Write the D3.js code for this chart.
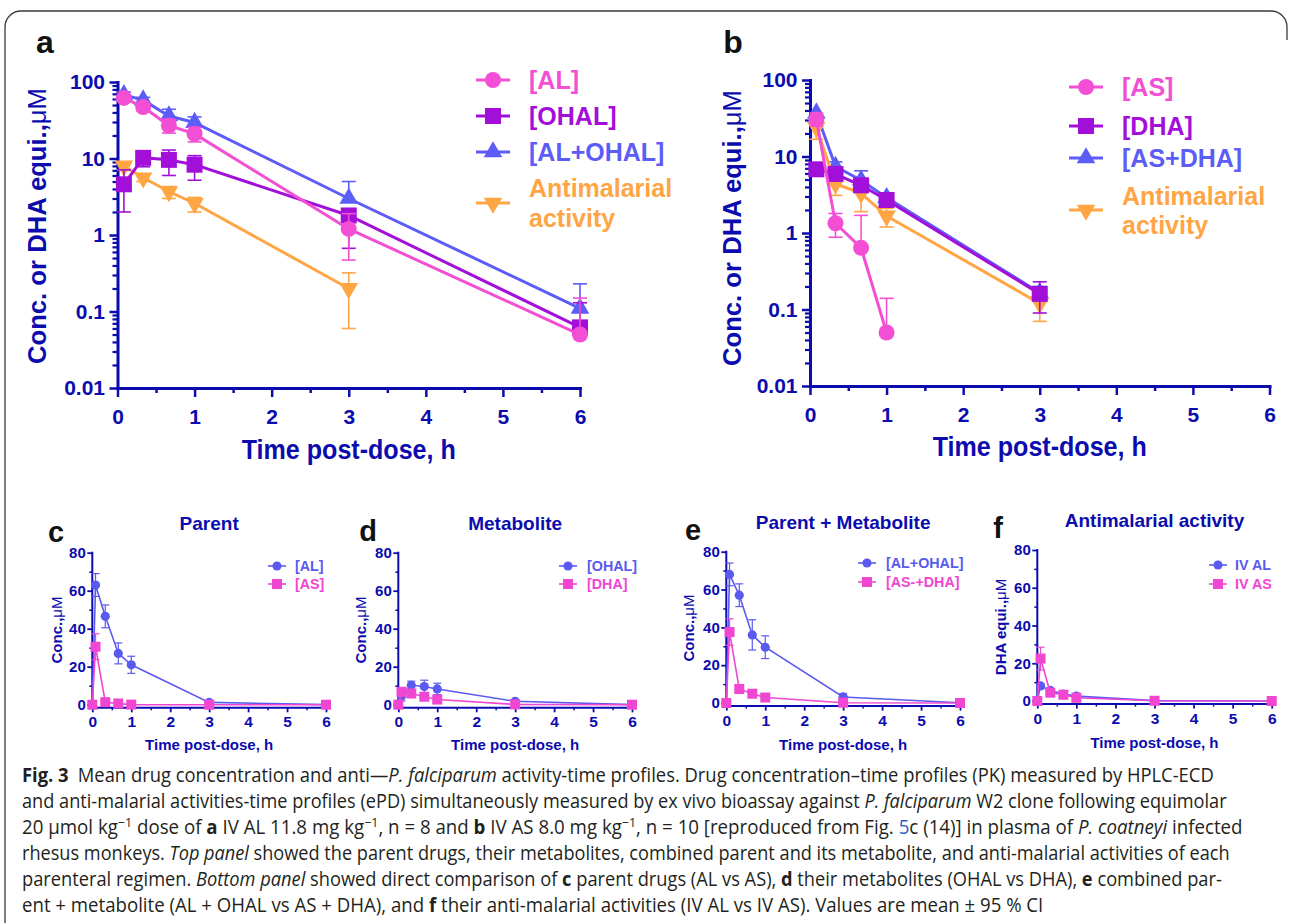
<!DOCTYPE html>
<html><head><meta charset="utf-8">
<script src="https://cdn.jsdelivr.net/npm/d3@7"></script>
<style>body{margin:0;background:#fff}svg{display:block}</style>
</head><body><svg id="fig" width="1290" height="923"></svg>
<script>
// ---------------- DATA ----------------
const timeTop = [0.083, 0.333, 0.667, 1, 3, 6];
// panel a (IV AL)
const aAL      = [62, 47, 27, 21, 1.2, 0.05];
const aALlo    = [57, 42, 21.5, 16.5, 0.47, null];
const aALhi    = [68, 52, 32.5, 25.5, 1.9, 0.15];
const aOHAL    = [4.6, 10.2, 9.6, 8.3, 1.8, 0.062];
const aOHALlo  = [2.0, 7.8, 6.0, 5.2, 0.67, null];
const aOHALhi  = [7.1, 12.3, 12.9, 10.9, 2.2, 0.13];
const aSum     = [68, 58, 36, 29.5, 3.0, 0.11];
const aSumlo   = [null, null, 28, 23.5, null, null];
const aSumhi   = [74, 63, 44, 35, 5.0, 0.23];
const aAct     = [8.0, 5.6, 3.7, 2.6, 0.2, null];
const aActlo   = [7.0, 5.0, 3.0, 2.0, 0.06, null];
const aActhi   = [9.0, 6.2, 4.3, 3.1, 0.32, null];
// panel b (IV AS)
const bAS      = [30.5, 1.34, 0.64, 0.05, null, null];
const bASlo    = [25, 0.88, null, null, null, null];
const bAShi    = [37, 1.8, 1.7, 0.14, null, null];
const bDHA     = [6.8, 5.9, 4.2, 2.7, 0.16, null];
const bDHAlo   = [null, 5.0, 3.5, 2.3, 0.09, null];
const bDHAhi   = [null, 6.8, 5.0, 3.1, 0.23, null];
const bSum     = [37, 7.4, 4.9, 2.9, 0.165, null];
const bSumlo   = [null, null, null, null, null, null];
const bSumhi   = [null, 8.5, 6.5, 3.3, 0.2, null];
const bAct     = [24, 4.4, 3.3, 1.67, 0.12, null];
const bActlo   = [16.8, 3.1, 1.9, 1.2, 0.07, null];
const bActhi   = [31, 5.5, 4.5, 2.1, 0.17, null];

const logTicks  = [0.01, 0.1, 1, 10, 100];
const logLabels = ["0.01", "0.1", "1", "10", "100"];
const hourTicks = [0, 1, 2, 3, 4, 5, 6];
const linTicks  = [0, 20, 40, 60, 80];

// bottom panels (linear scale)
const timeBottom = [0, 0.083, 0.333, 0.667, 1, 3, 6];
const cAL      = [0, 63, 46.5, 27, 21, 1.2, 0.05];
const cALerr   = [0, 6, 6, 5.5, 4.5, 0.5, 0.1];
const cAS      = [0, 30.5, 1.34, 0.64, 0.05, 0, 0];
const cASerr   = [0, 6.8, 0.5, 1.0, 0.1, 0, 0];
const dOHAL    = [0, 4.6, 10.2, 9.6, 8.3, 1.8, 0.06];
const dOHALerr = [0, 2.6, 2.2, 3.3, 3.0, 0.6, 0.07];
const dDHA     = [0, 6.8, 5.9, 4.2, 2.7, 0.16, 0];
const dDHAerr  = [0, 1.2, 1.0, 0.9, 0.5, 0.07, 0];
const eALOHAL  = [0, 68, 57, 36, 29.5, 3.2, 0.11];
const eALOHALerr = [0, 6, 6, 8, 6, 1.8, 0.12];
const eASDHA   = [0, 37.5, 7.4, 4.9, 2.9, 0.16, 0];
const eASDHAerr = [0, 7, 1.1, 1.6, 0.5, 0.07, 0];
const fIVAL    = [0, 8, 5.6, 3.7, 2.6, 0.2, 0];
const fIVALerr = [0, 1, 0.6, 0.6, 0.5, 0.12, 0];
const fIVAS    = [0, 22.5, 4.4, 3.3, 1.7, 0.12, 0];
const fIVASerr = [0, 6, 1.3, 1.4, 0.45, 0.05, 0];

// ---------------- STYLE ----------------
const PINK = "#F24FD4", PURPLE = "#A20FD9", BLUE = "#5C5CF7", ORANGE = "#FFA544";
const NAVY = "#0B0BAE";
const BBLUE = "#5A5AF0", BPINK = "#F046D2";
const FONT = "'Liberation Sans', Arial, Helvetica, sans-serif";

const svg = d3.select("#fig");
svg.append("rect").attr("width", 1290).attr("height", 923).attr("fill", "#fff");

// frame
svg.append("path")
  .attr("d", "M5,923 V27 A16,16 0 0 1 21,11 H1271 A16,16 0 0 1 1287,27 V40")
  .attr("fill", "none").attr("stroke", "#3a3a3a").attr("stroke-width", 1.3);

function sym(type, size, rot) {
  return { path: d3.symbol().type(type).size(size)(), rot: rot || 0 };
}

function drawMarker(g, m, cx, cy, color) {
  g.append("path").attr("d", m.path)
    .attr("transform", `translate(${cx},${cy}) rotate(${m.rot})`)
    .attr("fill", color).attr("stroke", "none");
}

function styleAxis(ax, w, tw, fs) {
  ax.select(".domain").attr("stroke", NAVY).attr("stroke-width", w).attr("stroke-linecap", "square");
  ax.selectAll(".tick line").attr("stroke", NAVY).attr("stroke-width", tw);
  ax.selectAll(".tick text").attr("fill", NAVY).attr("font-family", FONT)
    .attr("font-weight", "bold").attr("font-size", fs);
}

// ---------------- TOP PANELS ----------------
function topPanel(cfg) {
  const x = d3.scaleLinear().domain([0, 6]).range([cfg.x0, cfg.x1]);
  const y = d3.scaleLog().domain([0.01, 100]).range([cfg.yB, cfg.yT]);
  const g = svg.append("g");

  // minor ticks
  const minorY = y.ticks().filter(v => !logTicks.some(t => Math.abs(t - v) < 1e-9));
  const ym = g.append("g").attr("transform", `translate(${cfg.x0},0)`)
    .call(d3.axisLeft(y).tickValues(minorY).tickFormat("").tickSize(5).tickSizeOuter(0));
  ym.select(".domain").remove();
  ym.selectAll(".tick line").attr("stroke", NAVY).attr("stroke-width", 2.2);

  const xm = g.append("g").attr("transform", `translate(0,${cfg.yB})`)
    .call(d3.axisBottom(x).tickValues([0.5, 1.5, 2.5, 3.5, 4.5, 5.5]).tickFormat("").tickSize(5).tickSizeOuter(0));
  xm.select(".domain").remove();
  xm.selectAll(".tick line").attr("stroke", NAVY).attr("stroke-width", 2.5);

  const ya = g.append("g").attr("transform", `translate(${cfg.x0},0)`)
    .call(d3.axisLeft(y).tickValues(logTicks).tickFormat((d, i) => logLabels[i])
      .tickSize(8).tickSizeOuter(0).tickPadding(4.5));
  styleAxis(ya, 3, 2.5, 21);

  const xa = g.append("g").attr("transform", `translate(0,${cfg.yB})`)
    .call(d3.axisBottom(x).tickValues(hourTicks).tickFormat(d3.format("d"))
      .tickSize(9).tickSizeOuter(0).tickPadding(12));
  styleAxis(xa, 3, 2.5, 21);

  // series
  cfg.series.forEach(s => {
    const pts = timeTop.map((t, i) => ({ t, v: s.v[i], lo: s.lo[i], hi: s.hi[i] })).filter(p => p.v != null);
    pts.forEach(p => {
      const top = p.hi != null ? p.hi : p.v, bot = p.lo != null ? p.lo : p.v;
      if (top === bot) return;
      const cx = x(p.t);
      g.append("line").attr("x1", cx).attr("x2", cx).attr("y1", y(top)).attr("y2", y(bot))
        .attr("stroke", s.color).attr("stroke-width", 1.6);
      if (p.hi != null) g.append("line").attr("x1", cx - 7).attr("x2", cx + 7).attr("y1", y(p.hi)).attr("y2", y(p.hi))
        .attr("stroke", s.color).attr("stroke-width", 1.6);
      if (p.lo != null) g.append("line").attr("x1", cx - 7).attr("x2", cx + 7).attr("y1", y(p.lo)).attr("y2", y(p.lo))
        .attr("stroke", s.color).attr("stroke-width", 1.6);
    });
    g.append("path").datum(pts)
      .attr("d", d3.line().x(p => x(p.t)).y(p => y(p.v)))
      .attr("fill", "none").attr("stroke", s.color).attr("stroke-width", 3).attr("stroke-linejoin", "round");
    pts.forEach(p => drawMarker(g, s.marker, x(p.t), y(p.v), s.color));
  });

  // labels
  g.append("text").attr("x", cfg.letterX).attr("y", 53).attr("text-anchor", "middle")
    .attr("font-family", FONT).attr("font-weight", "bold").attr("font-size", 32).attr("fill", "#111").text(cfg.letter);
  g.append("text").attr("x", (cfg.x0 + cfg.x1) / 2).attr("y", cfg.xtY).attr("text-anchor", "middle")
    .attr("font-family", FONT).attr("font-weight", "bold").attr("font-size", 27)
    .attr("textLength", 214).attr("lengthAdjust", "spacingAndGlyphs")
    .attr("fill", NAVY).text("Time post-dose, h");
  const yt = g.append("text").attr("transform", `translate(${cfg.ytX},${cfg.ytY}) rotate(-90)`)
    .attr("text-anchor", "middle").attr("font-family", FONT).attr("font-weight", "bold").attr("font-size", 26)
    .attr("textLength", 276).attr("lengthAdjust", "spacingAndGlyphs").attr("fill", NAVY);
  yt.append("tspan").text("Conc. or DHA equi.,");
  yt.append("tspan").attr("font-weight", "normal").text("\u03bcM");

  // legend
  cfg.legend.forEach(L => {
    g.append("line").attr("x1", cfg.legX - 17).attr("x2", cfg.legX + 17).attr("y1", L.my).attr("y2", L.my)
      .attr("stroke", L.s.color).attr("stroke-width", 3);
    drawMarker(g, L.s.marker, cfg.legX, L.my, L.s.color);
    L.lines.forEach((txt, k) => {
      g.append("text").attr("x", cfg.legTX).attr("y", L.ty[k]).attr("font-family", FONT)
        .attr("font-weight", "bold").attr("font-size", 25).attr("fill", L.s.color).text(txt);
    });
  });
}

const mCircle = sym(d3.symbolCircle, 201);
const mSquare = sym(d3.symbolSquare, 256);
const mTri = sym(d3.symbolTriangle, 150);
const mInv = sym(d3.symbolTriangle, 150, 180);

const sAL   = { v: aAL, lo: aALlo, hi: aALhi, color: PINK, marker: mCircle };
const sOHAL = { v: aOHAL, lo: aOHALlo, hi: aOHALhi, color: PURPLE, marker: mSquare };
const sASum = { v: aSum, lo: aSumlo, hi: aSumhi, color: BLUE, marker: mTri };
const sAAct = { v: aAct, lo: aActlo, hi: aActhi, color: ORANGE, marker: mInv };
topPanel({
  x0: 117.5, x1: 580, yT: 82, yB: 388, letter: "a", letterX: 45, xtY: 459, ytX: 46, ytY: 226,
  series: [sAAct, sASum, sOHAL, sAL],
  legX: 493, legTX: 529,
  legend: [
    { s: sAL, my: 80, lines: ["[AL]"], ty: [89] },
    { s: sOHAL, my: 116, lines: ["[OHAL]"], ty: [125] },
    { s: sASum, my: 152, lines: ["[AL+OHAL]"], ty: [161] },
    { s: sAAct, my: 203, lines: ["Antimalarial", "activity"], ty: [197, 227] }
  ]
});

const sAS   = { v: bAS, lo: bASlo, hi: bAShi, color: PINK, marker: mCircle };
const sDHA  = { v: bDHA, lo: bDHAlo, hi: bDHAhi, color: PURPLE, marker: mSquare };
const sBSum = { v: bSum, lo: bSumlo, hi: bSumhi, color: BLUE, marker: mTri };
const sBAct = { v: bAct, lo: bActlo, hi: bActhi, color: ORANGE, marker: mInv };
topPanel({
  x0: 810, x1: 1269.5, yT: 80, yB: 386, letter: "b", letterX: 733, xtY: 456, ytX: 741, ytY: 228,
  series: [sBSum, sBAct, sDHA, sAS],
  legX: 1086, legTX: 1122,
  legend: [
    { s: sAS, my: 87, lines: ["[AS]"], ty: [96] },
    { s: sDHA, my: 126, lines: ["[DHA]"], ty: [135] },
    { s: sBSum, my: 158, lines: ["[AS+DHA]"], ty: [167] },
    { s: sBAct, my: 210, lines: ["Antimalarial", "activity"], ty: [205, 234] }
  ]
});

// ---------------- BOTTOM PANELS ----------------
const bCircle = sym(d3.symbolCircle, 66);
const bSquare = sym(d3.symbolSquare, 100);

function bottomPanel(cfg) {
  const x = d3.scaleLinear().domain([0, 6]).range([cfg.x0, cfg.x1]);
  const y = d3.scaleLinear().domain([0, 80]).range([cfg.yB, cfg.yT]);
  const g = svg.append("g");

  const ym = g.append("g").attr("transform", `translate(${cfg.x0},0)`)
    .call(d3.axisLeft(y).tickValues([10, 30, 50, 70]).tickFormat("").tickSize(3).tickSizeOuter(0));
  ym.select(".domain").remove();
  ym.selectAll(".tick line").attr("stroke", NAVY).attr("stroke-width", 1.5);
  const xm = g.append("g").attr("transform", `translate(0,${cfg.axY})`)
    .call(d3.axisBottom(x).tickValues([0.5, 1.5, 2.5, 3.5, 4.5, 5.5]).tickFormat("").tickSize(3).tickSizeOuter(0));
  xm.select(".domain").remove();
  xm.selectAll(".tick line").attr("stroke", NAVY).attr("stroke-width", 1.5);

  const ya = g.append("g").attr("transform", `translate(${cfg.x0},0)`)
    .call(d3.axisLeft(y).tickValues(linTicks).tickFormat(d3.format("d")).tickSize(5).tickSizeOuter(0).tickPadding(1.5));
  styleAxis(ya, 2, 1.8, 15);
  ya.select(".domain").attr("d", `M0,${y(80)}V${cfg.axY}`);

  const xa = g.append("g").attr("transform", `translate(0,${cfg.axY})`)
    .call(d3.axisBottom(x).tickValues(hourTicks).tickFormat(d3.format("d")).tickSize(5).tickSizeOuter(0).tickPadding(4));
  styleAxis(xa, 2, 1.8, 15.5);

  cfg.series.forEach(s => {
    const pts = timeBottom.map((t, i) => ({ t, v: s.v[i], e: s.e[i] }));
    pts.forEach(p => {
      if (!p.e) return;
      const cx = x(p.t);
      g.append("line").attr("x1", cx).attr("x2", cx).attr("y1", y(p.v + p.e)).attr("y2", y(Math.max(0, p.v - p.e)))
        .attr("stroke", s.color).attr("stroke-width", 1.2);
      g.append("line").attr("x1", cx - 4).attr("x2", cx + 4).attr("y1", y(p.v + p.e)).attr("y2", y(p.v + p.e))
        .attr("stroke", s.color).attr("stroke-width", 1.2);
      if (p.v - p.e > 0)
        g.append("line").attr("x1", cx - 4).attr("x2", cx + 4).attr("y1", y(p.v - p.e)).attr("y2", y(p.v - p.e))
          .attr("stroke", s.color).attr("stroke-width", 1.2);
    });
    g.append("path").datum(pts).attr("d", d3.line().x(p => x(p.t)).y(p => y(p.v)))
      .attr("fill", "none").attr("stroke", s.color).attr("stroke-width", 1.6);
    pts.forEach(p => drawMarker(g, s.marker, x(p.t), y(p.v), s.color));
  });

  const cx = (cfg.x0 + cfg.x1) / 2;
  g.append("text").attr("x", cx).attr("y", cfg.titleY).attr("text-anchor", "middle")
    .attr("font-family", FONT).attr("font-weight", "bold").attr("font-size", 19).attr("fill", NAVY).text(cfg.title);
  g.append("text").attr("x", cfg.letterX).attr("y", cfg.letterY).attr("text-anchor", "middle")
    .attr("font-family", FONT).attr("font-weight", "bold").attr("font-size", 29).attr("fill", "#111").text(cfg.letter);
  g.append("text").attr("x", cx).attr("y", cfg.xtY).attr("text-anchor", "middle")
    .attr("font-family", FONT).attr("font-weight", "bold").attr("font-size", 15).attr("fill", NAVY).text("Time post-dose, h");
  const yt = g.append("text").attr("transform", `translate(${cfg.ytX},${cfg.ytY}) rotate(-90)`)
    .attr("text-anchor", "middle").attr("font-family", FONT).attr("font-weight", "bold").attr("font-size", 15).attr("fill", NAVY);
  yt.append("tspan").text(cfg.ytitle);
  yt.append("tspan").attr("font-weight", "normal").text("\u03bcM");

  cfg.series.forEach((s, k) => {
    const ly = cfg.legY[k];
    g.append("line").attr("x1", cfg.legX - 9).attr("x2", cfg.legX + 9).attr("y1", ly).attr("y2", ly)
      .attr("stroke", s.color).attr("stroke-width", 1.6);
    drawMarker(g, s.marker, cfg.legX, ly, s.color);
    g.append("text").attr("x", cfg.legTX).attr("y", ly + 5).attr("font-family", FONT).attr("font-weight", "bold")
      .attr("font-size", 14.3).attr("fill", s.color).text(s.name);
  });
}

bottomPanel({ x0: 92.3, x1: 326, yT: 552.7, yB: 704.7, axY: 707.3, title: "Parent", titleY: 530,
  letter: "c", letterX: 56, letterY: 542, xtY: 750, ytX: 62, ytY: 630, ytitle: "Conc.,",
  legX: 277, legTX: 295, legY: [566, 584],
  series: [
    { name: "[AL]", v: cAL, e: cALerr, color: BBLUE, marker: bCircle },
    { name: "[AS]", v: cAS, e: cASerr, color: BPINK, marker: bSquare }
  ] });
bottomPanel({ x0: 398.3, x1: 632, yT: 552.7, yB: 704.7, axY: 707.3, title: "Metabolite", titleY: 530,
  letter: "d", letterX: 368, letterY: 541, xtY: 750, ytX: 366, ytY: 630, ytitle: "Conc.,",
  legX: 568, legTX: 587, legY: [566, 584],
  series: [
    { name: "[OHAL]", v: dOHAL, e: dOHALerr, color: BBLUE, marker: bCircle },
    { name: "[DHA]", v: dDHA, e: dDHAerr, color: BPINK, marker: bSquare }
  ] });
bottomPanel({ x0: 726.3, x1: 960, yT: 551.7, yB: 703, axY: 705.6, title: "Parent + Metabolite", titleY: 529,
  letter: "e", letterX: 693, letterY: 539.5, xtY: 749.5, ytX: 694, ytY: 628, ytitle: "Conc.,",
  legX: 867, legTX: 886, legY: [563, 582],
  series: [
    { name: "[AL+OHAL]", v: eALOHAL, e: eALOHALerr, color: BBLUE, marker: bCircle },
    { name: "[AS-+DHA]", v: eASDHA, e: eASDHAerr, color: BPINK, marker: bSquare }
  ] });
bottomPanel({ x0: 1037.3, x1: 1271.7, yT: 550, yB: 701, axY: 703.6, title: "Antimalarial activity", titleY: 527,
  letter: "f", letterX: 998, letterY: 538, xtY: 747.5, ytX: 1006, ytY: 627, ytitle: "DHA equi.,",
  legX: 1218, legTX: 1235, legY: [565, 584],
  series: [
    { name: "IV AL", v: fIVAL, e: fIVALerr, color: BBLUE, marker: bCircle },
    { name: "IV AS", v: fIVAS, e: fIVASerr, color: BPINK, marker: bSquare }
  ] });

// ---------------- CAPTION ----------------
const captionLines = [
  [["Fig. 3", "b"], ["\u2002Mean drug concentration and anti\u2014", ""], ["P. falciparum", "i"], [" activity-time profiles. Drug concentration\u2013time profiles (PK) measured by HPLC-ECD", ""]],
  [["and anti-malarial activities-time profiles (ePD) simultaneously measured by ex vivo bioassay against ", ""], ["P. falciparum", "i"], [" W2 clone following equimolar", ""]],
  [["20 \u03bcmol kg", ""], ["\u22121", "sup"], [" dose of ", ""], ["a", "b"], [" IV AL 11.8 mg kg", ""], ["\u22121", "sup"], [", n = 8 and ", ""], ["b", "b"], [" IV AS 8.0 mg kg", ""], ["\u22121", "sup"], [", n = 10 [reproduced from Fig. ", ""], ["5", "link"], ["c (14)] in plasma of ", ""], ["P. coatneyi", "i"], [" infected", ""]],
  [["rhesus monkeys. ", ""], ["Top panel", "i"], [" showed the parent drugs, their metabolites, combined parent and its metabolite, and anti-malarial activities of each", ""]],
  [["parenteral regimen. ", ""], ["Bottom panel", "i"], [" showed direct comparison of ", ""], ["c", "b"], [" parent drugs (AL vs AS), ", ""], ["d", "b"], [" their metabolites (OHAL vs DHA), ", ""], ["e", "b"], [" combined par-", ""]],
  [["ent + metabolite (AL + OHAL vs AS + DHA), and ", ""], ["f", "b"], [" their anti-malarial activities (IV AL vs IV AS). Values are mean \u00b1 95 % CI", ""]]
];
const captionEnds = [1215, 1228, 1243, 1230, 1223, 1044];
const capX = 22, capY0 = 781.5, capDY = 26;
captionLines.forEach((parts, li) => {
  const t = svg.append("text").attr("x", 0).attr("y", 0)
    .attr("font-family", "'Open Sans', 'Noto Sans', sans-serif").attr("font-size", 19.5).attr("fill", "#231f20");
  parts.forEach(([txt, st]) => {
    const ts = t.append("tspan").text(txt);
    if (st === "b") ts.attr("font-weight", "bold");
    if (st === "i") ts.attr("font-style", "italic");
    if (st === "link") ts.attr("fill", "#2b5fc7");
    if (st === "sup") ts.attr("font-size", 13).attr("dy", -7);
    if (st !== "sup" && parts.indexOf(parts.find(p => p[0] === txt)) > 0) {
      const prev = parts[parts.findIndex(p => p === parts.find(q => q[0] === txt)) - 1];
      if (prev && prev[1] === "sup") ts.attr("dy", 7);
    }
  });
  const natural = t.node().getComputedTextLength();
  const k = (captionEnds[li] - capX) / natural;
  t.attr("transform", `translate(${capX},${capY0 + li * capDY}) scale(${k},1)`);
});
</script></body></html>
